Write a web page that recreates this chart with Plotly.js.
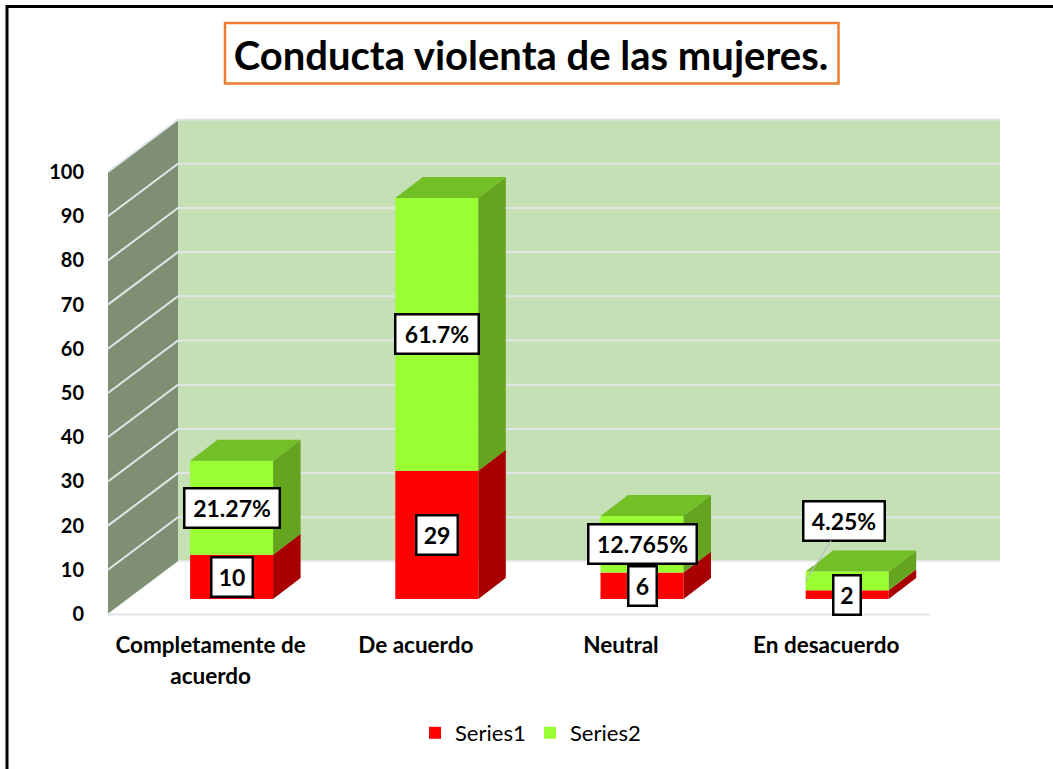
<!DOCTYPE html>
<html><head><meta charset="utf-8">
<script src="https://cdn.plot.ly/plotly-3.0.1.min.js"></script>
<style>html,body{margin:0;padding:0;background:#fff}#c{width:1053px;height:769px}</style>
</head><body><div id="c"></div>
<script>
const categories = ['Completamente de<br>acuerdo', 'De acuerdo', 'Neutral', 'En desacuerdo'];
const series1 = [10, 29, 6, 2];
const series2 = [21.27, 61.7, 12.765, 4.25];
const labels1 = ['10', '29', '6', '2'];
const labels2 = ['21.27%', '61.7%', '12.765%', '4.25%'];
const tickValues = [0, 10, 20, 30, 40, 50, 60, 70, 80, 90, 100];
const titleText = 'Conducta violenta de las mujeres.';

const FONT = 'Lato, "Open Sans", sans-serif';
const W = 1053, H = 769, ML = 108, MR = 53, MT = 110, MB = 155;
const PW = W - ML - MR, PH = H - MT - MB;
const CAT_PX = 205.2, VAL_PX = 4.42;
const xTop = PW / CAT_PX, yTop = PH / VAL_PX;
const nCat = categories.length;
// depth projection, in axis units
const wallDX = 70 / CAT_PX, wallDY = 52.5 / VAL_PX;
const barShift = 21 / CAT_PX, barFloor = 15 / VAL_PX;
const barW = 83 / CAT_PX, barDX = 27.5 / CAT_PX, barDY = 21 / VAL_PX;
// label box widths in px
const boxW1 = [33, 33, 20, 19], boxW2 = [87, 75, 100, 73];

const px = x => (x - ML) / PW, py = y => (H - MB - y) / PH;
const barX = categories.map((_, i) => i + 0.5 + barShift);
const base1 = series1.map(() => barFloor);
const base2 = series1.map(v => barFloor + v);
const top2 = series2.map((v, i) => base2[i] + v);

function boxes(kind, bases, tops) {
  const xs = [], ys = [];
  barX.forEach((c, i) => {
    const l = c - barW / 2, r = c + barW / 2, b = bases[i], t = tops[i];
    const pts = kind === 'top'
      ? [[l, t], [r, t], [r + barDX, t + barDY], [l + barDX, t + barDY], [l, t]]
      : [[r, b], [r + barDX, b + barDY], [r + barDX, t + barDY], [r, t], [r, b]];
    pts.forEach(p => { xs.push(p[0]); ys.push(p[1]); });
    xs.push(null); ys.push(null);
  });
  return { x: xs, y: ys };
}
function poly(kind, bases, tops, color) {
  return Object.assign(boxes(kind, bases, tops), {
    type: 'scatter', mode: 'lines', fill: 'toself', fillcolor: color,
    line: { width: 0, color: color }, hoverinfo: 'skip', showlegend: false
  });
}
const traces = [
  { type: 'bar', name: 'Series1', x: barX, y: series1, base: base1, width: barW, marker: { color: '#FF0000', line: { width: 0 } } },
  { type: 'bar', name: 'Series2', x: barX, y: series2, base: base2, width: barW, marker: { color: '#99FF33', line: { width: 0 } } },
  poly('side', base1, base2, '#A80000'),
  poly('side', base2, top2, '#64A41F'),
  poly('top', top2, top2, '#73BF26')
];

const GRID = '#E1E5E8';
const shapes = [
  { type: 'path', layer: 'below', xref: 'x', yref: 'y', line: { width: 0 }, fillcolor: '#C5E0B4',
    path: `M${wallDX},${wallDY} H${xTop} V${100 + wallDY} H${wallDX} Z` },
  { type: 'path', layer: 'below', xref: 'x', yref: 'y', line: { width: 0 }, fillcolor: '#7F8F73',
    path: `M0,0 L${wallDX},${wallDY} V${100 + wallDY} L0,100 Z` },
  { type: 'line', layer: 'below', xref: 'paper', yref: 'paper', x0: px(108), x1: px(930), y0: py(614.5), y1: py(614.5), line: { color: '#DFE3E8', width: 2 } },
  { type: 'line', layer: 'below', xref: 'x', yref: 'y', x0: 0, x1: wallDX, y0: 0, y1: wallDY, line: { color: '#EEF0F2', width: 1 } },
  { type: 'line', layer: 'below', xref: 'x', yref: 'y', x0: wallDX, x1: xTop, y0: wallDY, y1: wallDY, line: { color: '#EEF0F2', width: 2 } }
];
tickValues.slice(1).forEach(v => {
  shapes.push({ type: 'path', layer: 'below', xref: 'x', yref: 'y', line: { color: GRID, width: 2 },
    path: `M0,${v} L${wallDX},${v + wallDY} H${xTop}` });
});
// picture frame and title box
shapes.push({ type: 'path', xref: 'paper', yref: 'paper', line: { color: '#000', width: 3 },
  path: `M${px(7)},${py(769)} L${px(7)},${py(6.5)} L${px(1053)},${py(6.5)}` });
shapes.push({ type: 'rect', xref: 'paper', yref: 'paper', x0: px(225), x1: px(838.5), y0: py(23), y1: py(83.5),
  line: { color: '#ED7D31', width: 2.5 } });

function label(text, x, y, w, extra) {
  return Object.assign({
    x, y, xref: 'x', yref: 'y', text, showarrow: false, bgcolor: '#fff',
    bordercolor: '#000', borderwidth: 2.5, borderpad: 3, width: w, height: 31,
    font: { family: FONT, size: 23, color: '#000', weight: 700 }, align: 'center', valign: 'middle'
  }, extra || {});
}
const annotations = [];
barX.forEach((c, i) => {
  annotations.push(label(labels1[i], c, barFloor + series1[i] / 2, boxW1[i]));
  if (i < 3) annotations.push(label(labels2[i], c, base2[i] + series2[i] / 2, boxW2[i]));
  else annotations.push(label(labels2[i], c - barW / 2, base2[i] + series2[i] / 2, boxW2[i], {
    showarrow: true, arrowhead: 0, arrowwidth: 1.2, arrowcolor: '#B8BEC6', ax: 38, ay: -60, standoff: 0
  }));
});

const layout = {
  width: W, height: H, paper_bgcolor: '#fff', plot_bgcolor: 'rgba(0,0,0,0)',
  margin: { l: ML, r: MR, t: MT, b: MB, pad: 0 },
  font: { family: FONT, color: '#000' },
  title: { text: titleText, x: px(531), xanchor: 'center', xref: 'paper', y: 1 - 56 / H, yanchor: 'middle',
    font: { family: FONT, size: 40, weight: 700, color: '#000' } },
  barmode: 'overlay', hovermode: false,
  xaxis: { type: 'linear', range: [0, xTop], tickmode: 'array',
    tickvals: categories.map((_, i) => i + 0.5),
    ticktext: categories.map(c => c.split('<br>').map(s => `<span style="font-size:22.5px">${s}</span>`).join('<br>')),
    showgrid: false, zeroline: false, showline: false, ticks: 'outside', ticklen: 9, tickcolor: 'rgba(0,0,0,0)',
    tickfont: { family: FONT, size: 24, weight: 700, color: '#000' } },
  yaxis: { type: 'linear', range: [0, yTop], tickmode: 'array', tickvals: tickValues,
    showgrid: false, zeroline: false, showline: false, ticks: 'outside', ticklen: 19, tickcolor: 'rgba(0,0,0,0)',
    tickfont: { family: FONT, size: 20, weight: 700, color: '#000' } },
  showlegend: true,
  legend: { orientation: 'h', x: px(530), xanchor: 'center', y: py(733), yanchor: 'middle',
    font: { family: FONT, size: 22, color: '#000' }, bgcolor: 'rgba(0,0,0,0)', itemwidth: 30, traceorder: 'normal',
    entrywidth: 70, entrywidthmode: 'pixels' },
  shapes, annotations
};
Plotly.newPlot('c', traces, layout, { displayModeBar: false, staticPlot: true });
</script></body></html>
